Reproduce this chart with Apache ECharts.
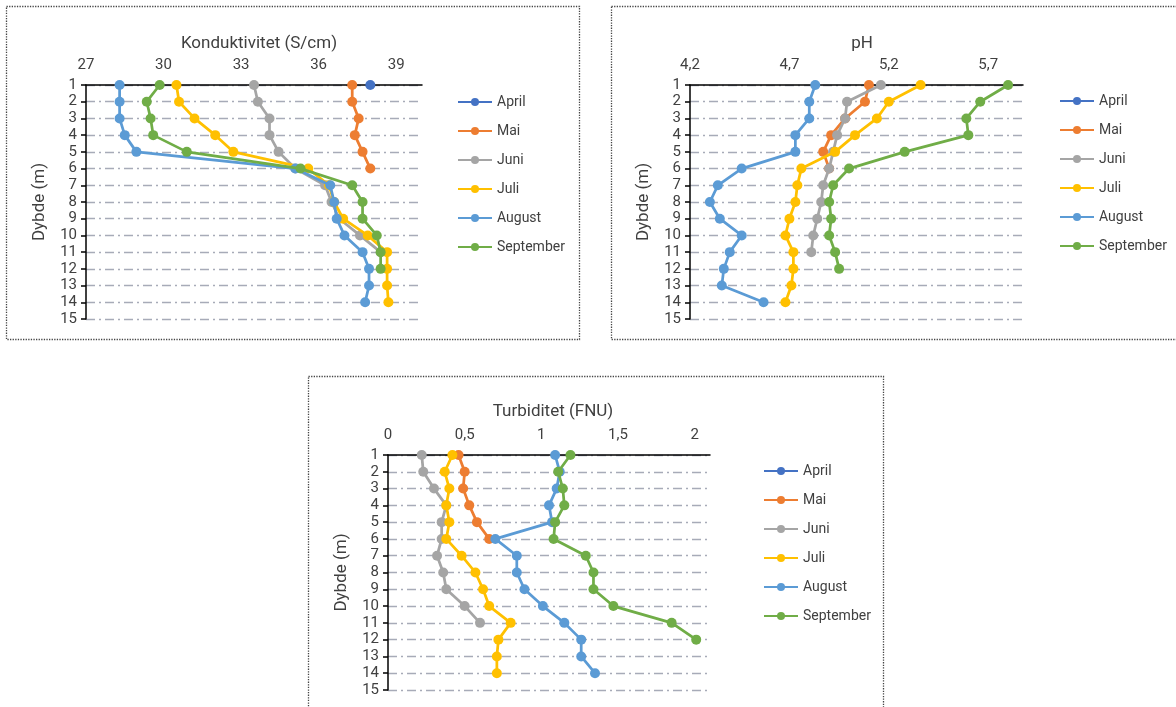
<!DOCTYPE html>
<html><head><meta charset="utf-8">
<script src="https://cdn.jsdelivr.net/npm/echarts@6/dist/echarts.min.js"></script>
<style>html,body{margin:0;padding:0;background:#fff}#c{width:1176px;height:707px}</style>
</head><body><div id="c"></div>
<script>
const depths = [1,2,3,4,5,6,7,8,9,10,11,12,13,14];
const months = ['April','Mai','Juni','Juli','August','September'];
const colors = ['#4472C4','#ED7D31','#A5A5A5','#FFC000','#5B9BD5','#70AD47'];

// Konduktivitet (S/cm)
const kondApril = [38.0];
const kondMai = [37.3, 37.3, 37.55, 37.4, 37.7, 38.0];
const kondJuni = [33.5, 33.65, 34.1, 34.1, 34.45, 35.1, 36.25, 36.5, 36.8, 37.6, 38.4];
const kondJuli = [30.5, 30.6, 31.2, 32.0, 32.7, 35.6, 36.4, 36.6, 36.95, 37.9, 38.65, 38.65, 38.65, 38.7];
const kondAugust = [28.3, 28.3, 28.3, 28.5, 28.95, 35.1, 36.45, 36.6, 36.7, 37.0, 37.7, 37.95, 37.95, 37.8];
const kondSeptember = [29.85, 29.35, 29.5, 29.6, 30.9, 35.3, 37.3, 37.7, 37.7, 38.25, 38.4, 38.4];

// pH
const phApril = [];
const phMai = [5.10, 5.08, 4.98, 4.91, 4.87, 4.90];
const phJuni = [5.16, 4.99, 4.98, 4.94, 4.92, 4.90, 4.87, 4.86, 4.84, 4.82, 4.81];
const phJuli = [5.36, 5.20, 5.14, 5.03, 4.93, 4.76, 4.74, 4.73, 4.70, 4.68, 4.72, 4.72, 4.71, 4.68];
const phAugust = [4.83, 4.80, 4.80, 4.73, 4.73, 4.46, 4.34, 4.30, 4.35, 4.46, 4.40, 4.37, 4.36, 4.57];
const phSeptember = [5.80, 5.66, 5.59, 5.60, 5.28, 5.00, 4.92, 4.90, 4.91, 4.90, 4.93, 4.95];

// Turbiditet (FNU)
const turbApril = [];
const turbMai = [0.46, 0.50, 0.49, 0.53, 0.58, 0.66];
const turbJuni = [0.22, 0.23, 0.30, 0.38, 0.35, 0.35, 0.32, 0.36, 0.38, 0.50, 0.60];
const turbJuli = [0.42, 0.37, 0.40, 0.38, 0.40, 0.38, 0.48, 0.57, 0.62, 0.66, 0.80, 0.72, 0.71, 0.71];
const turbAugust = [1.09, 1.12, 1.10, 1.05, 1.07, 0.70, 0.84, 0.84, 0.89, 1.01, 1.15, 1.26, 1.26, 1.35];
const turbSeptember = [1.19, 1.11, 1.14, 1.15, 1.09, 1.08, 1.29, 1.34, 1.34, 1.47, 1.85, 2.01];

const panels = [
  {title:'Konduktivitet (S/cm)', sets:[kondApril,kondMai,kondJuni,kondJuli,kondAugust,kondSeptember], min:27, max:40, interval:3,
   grid:{left:86, top:85, width:336, height:234}, titlePos:{x:254, y:30}, legend:{left:452, top:90}, box:[6,6,573,333]},
  {title:'pH', sets:[phApril,phMai,phJuni,phJuli,phAugust,phSeptember], min:4.2, max:5.875, interval:0.5,
   grid:{left:690, top:85, width:333, height:234}, titlePos:{x:857, y:30}, legend:{left:1054, top:89}, box:[611,6,570,333]},
  {title:'Turbiditet (FNU)', sets:[turbApril,turbMai,turbJuni,turbJuli,turbAugust,turbSeptember], min:0, max:2.1, interval:0.5,
   grid:{left:388, top:455, width:322, height:235}, titlePos:{x:548, y:398}, legend:{left:758, top:459}, box:[308,376,575,340]}
];

const font = 'Roboto, "DejaVu Sans", sans-serif';
const txt = '#404040';
const fmt = v => (Math.round(v*10)/10).toString().replace('.', ',');

const option = {
  animation:false,
  backgroundColor:'#fff',
  title:[], grid:[], xAxis:[], yAxis:[], legend:[], series:[], graphic:[]
};

panels.forEach((p, i) => {
  option.title.push({text:p.title, left:p.titlePos.x, top:p.titlePos.y, textAlign:'center',
    textStyle:{fontFamily:font, fontSize:17, fontWeight:'normal', color:txt}});
  option.grid.push(Object.assign({containLabel:false}, p.grid));
  option.xAxis.push({type:'value', gridIndex:i, position:'top', min:p.min, max:p.max, interval:p.interval,
    axisLine:{show:true, lineStyle:{color:'#000', width:1.5}}, axisTick:{show:false}, splitLine:{show:false},
    axisLabel:{showMaxLabel:false, formatter:fmt, fontFamily:font, fontSize:15, color:txt, margin:12}});
  option.yAxis.push({type:'value', gridIndex:i, inverse:true, min:1, max:15, interval:1,
    name:'Dybde (m)', nameLocation:'middle', nameGap:38, nameRotate:90,
    nameTextStyle:{fontFamily:font, fontSize:17, color:txt},
    axisLine:{show:true, lineStyle:{color:'#000', width:1.5}},
    axisTick:{show:true, inside:false, length:5, lineStyle:{color:'#000', width:1.5}},
    splitLine:{show:true, lineStyle:{color:'#a7abb8', width:1.4, type:[9,4,2,4]}},
    axisLabel:{fontFamily:font, fontSize:15, color:txt, margin:9}});
  option.legend.push({orient:'vertical', left:p.legend.left, top:p.legend.top, itemWidth:34, itemHeight:10, itemGap:15,
    data:months, textStyle:{fontFamily:font, fontSize:14, color:txt}, selectedMode:false});
  p.sets.forEach((vals, k) => {
    option.series.push({type:'line', name:months[k], xAxisIndex:i, yAxisIndex:i,
      data: vals.map((v, j) => [v, depths[j]]),
      symbol:'circle', symbolSize:10, color:colors[k],
      lineStyle:{width:2.75, color:colors[k]}, itemStyle:{color:colors[k]}, z:2+k});
  });
  option.graphic.push({type:'rect', shape:{x:p.box[0]+0.5, y:p.box[1]+0.5, width:p.box[2], height:p.box[3]},
    style:{fill:'none', stroke:'#444', lineWidth:1.3, lineDash:[1.3,1.3]}, silent:true});
});

const chart = echarts.init(document.getElementById('c'), null, {renderer:'canvas'});
chart.setOption(option);
</script></body></html>
